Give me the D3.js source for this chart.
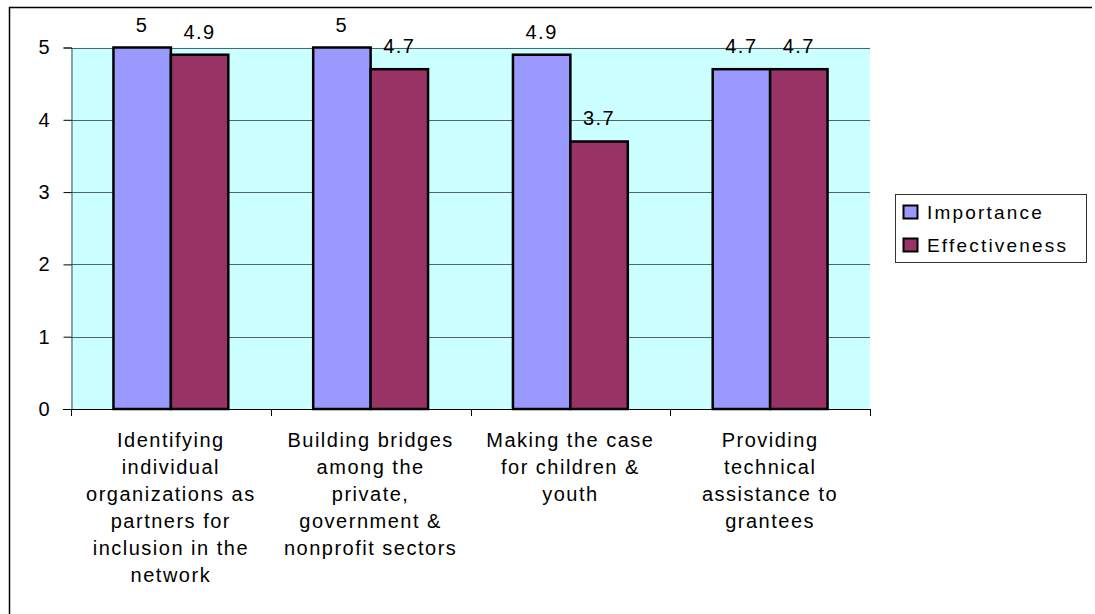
<!DOCTYPE html>
<html>
<head>
<meta charset="utf-8">
<script src="https://cdn.jsdelivr.net/npm/d3@7"></script>
<style>
  html, body { margin: 0; padding: 0; background: #fff; }
  svg { display: block; font-family: "Liberation Sans", Arial, sans-serif; }
</style>
</head>
<body>
<svg id="chart" width="1095" height="614"></svg>
<script>
// Category labels, one array of lines per group
const categories = [
  ["Identifying", "individual", "organizations as", "partners for", "inclusion in the", "network"],
  ["Building bridges", "among the", "private,", "government &", "nonprofit sectors"],
  ["Making the case", "for children &", "youth"],
  ["Providing", "technical", "assistance to", "grantees"]
];
const seriesNames = ["Importance", "Effectiveness"];
const importance = [5, 5, 4.9, 4.7];
const effectiveness = [4.9, 4.7, 3.7, 4.7];
const yTicks = [0, 1, 2, 3, 4, 5];
const colors = ["#9999FF", "#993366"];

const svg = d3.select("#chart");
const plot = { left: 71, right: 870, top: 47.5, bottom: 409 };

// Outer chart-area frame (top and left edges)
svg.append("path")
  .attr("d", "M9.5,620 V7.5 H1092")
  .attr("fill", "none").attr("stroke", "#000").attr("stroke-width", 1.5);

const x0 = d3.scaleBand()
  .domain(d3.range(categories.length))
  .range([plot.left, plot.right])
  .paddingInner(0.425)
  .paddingOuter(0.2125);
const x1 = d3.scaleBand().domain(d3.range(seriesNames.length)).range([0, x0.bandwidth()]);
const y = d3.scaleLinear().domain([0, 5]).range([plot.bottom, plot.top]);

// Plot background
svg.append("rect")
  .attr("x", plot.left).attr("y", plot.top)
  .attr("width", plot.right - plot.left).attr("height", plot.bottom - plot.top)
  .attr("fill", "#CCFFFF");

// Horizontal gridlines
svg.append("g").selectAll("line").data(yTicks.filter(d => d > 0)).join("line")
  .attr("x1", plot.left).attr("x2", plot.right)
  .attr("y1", d => Math.round(y(d)) + 0.5).attr("y2", d => Math.round(y(d)) + 0.5)
  .attr("stroke", "#4f6666").attr("stroke-width", 1);

// Y axis
const yAxis = svg.append("g")
  .attr("transform", `translate(${plot.left + 0.5},0)`)
  .call(d3.axisLeft(y).tickValues(yTicks).tickSize(8).tickPadding(14).tickFormat(d3.format("d")));
yAxis.select(".domain").attr("stroke", "#3a4a4a");
yAxis.selectAll(".tick line").attr("stroke", "#000");
yAxis.selectAll("text").attr("font-size", 20).attr("fill", "#000")
  .attr("font-family", "Liberation Sans, Arial, sans-serif");

// Bars
const data = categories.map((c, i) => [importance[i], effectiveness[i]]);
const groups = svg.append("g").selectAll("g").data(data).join("g")
  .attr("transform", (d, i) => `translate(${x0(i)},0)`);
groups.selectAll("rect").data(d => d.map((v, k) => ({ v, k }))).join("rect")
  .attr("x", d => x1(d.k))
  .attr("y", d => y(d.v))
  .attr("width", x1.bandwidth())
  .attr("height", d => y(0) - y(d.v))
  .attr("fill", d => colors[d.k])
  .attr("stroke", "#000").attr("stroke-width", 2.5);

// Value labels
groups.selectAll("text").data(d => d.map((v, k) => ({ v, k }))).join("text")
  .attr("x", d => x1(d.k) + x1.bandwidth() / 2)
  .attr("y", d => y(d.v) - 16)
  .attr("text-anchor", "middle")
  .attr("font-size", 20).attr("letter-spacing", 1.5)
  .text(d => d.v);

// X axis line and group separator ticks
svg.append("line")
  .attr("x1", plot.left - 8).attr("x2", plot.right)
  .attr("y1", plot.bottom + 0.5).attr("y2", plot.bottom + 0.5)
  .attr("stroke", "#000").attr("stroke-width", 1.2);
const step = x0.step();
const bounds = d3.range(categories.length + 1).map(i => x0(0) + x0.bandwidth() / 2 - step / 2 + i * step);
svg.append("g").selectAll("line").data(bounds).join("line")
  .attr("x1", d => Math.round(d) + 0.5).attr("x2", d => Math.round(d) + 0.5)
  .attr("y1", plot.bottom).attr("y2", plot.bottom + 7)
  .attr("stroke", "#000");

// Category labels
const catG = svg.append("g").selectAll("text").data(categories).join("text")
  .attr("text-anchor", "middle")
  .attr("font-size", 20).attr("letter-spacing", 1.5);
catG.selectAll("tspan").data((d, i) => d.map(line => ({ line, i }))).join("tspan")
  .attr("x", d => x0(d.i) + x0.bandwidth() / 2)
  .attr("y", (d, j) => 447 + j * 27)
  .text(d => d.line);

// Legend
const legend = svg.append("g");
legend.append("rect")
  .attr("x", 895.5).attr("y", 194.5).attr("width", 191).attr("height", 68)
  .attr("fill", "#fff").attr("stroke", "#333").attr("stroke-width", 1);
const items = legend.selectAll("g.item").data(seriesNames).join("g").attr("class", "item")
  .attr("transform", (d, i) => `translate(903,${212 + i * 33})`);
items.append("rect")
  .attr("x", 0.5).attr("y", -6.5).attr("width", 14).attr("height", 13)
  .attr("fill", (d, i) => colors[i]).attr("stroke", "#000").attr("stroke-width", 2);
items.append("text")
  .attr("x", 24).attr("y", 7)
  .attr("font-size", 19).attr("letter-spacing", 2.2)
  .text(d => d);
</script>
</body>
</html>
